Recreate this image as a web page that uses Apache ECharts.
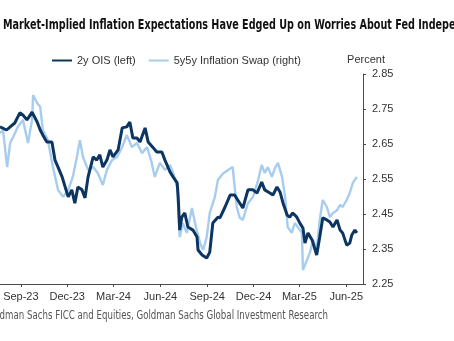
<!DOCTYPE html>
<html>
<head>
<meta charset="utf-8">
<script src="https://cdn.jsdelivr.net/npm/echarts@6/dist/echarts.min.js"></script>
<style>
html,body{margin:0;padding:0;background:#fff;}
#c{width:454px;height:341px;}
</style>
</head>
<body>
<div id="c"></div>
<script>
// 2y OIS (left) (in right-axis units)
const oisDates = ['2023-07-22','2023-08-04','2023-08-11','2023-08-20','2023-08-30','2023-09-05','2023-09-13','2023-09-23','2023-10-03','2023-10-09','2023-10-14','2023-10-22','2023-11-01','2023-11-07','2023-11-13','2023-11-21','2023-11-27','2023-12-03','2023-12-10','2023-12-16','2023-12-22','2023-12-30','2024-01-05','2024-01-11','2024-01-21','2024-01-28','2024-02-03','2024-02-09','2024-02-17','2024-02-23','2024-02-29','2024-03-10','2024-03-18','2024-03-27','2024-04-02','2024-04-08','2024-04-16','2024-04-22','2024-05-02','2024-05-08','2024-05-17','2024-05-25','2024-06-04','2024-06-10','2024-06-20','2024-06-26','2024-07-04','2024-07-06','2024-07-09','2024-07-13','2024-07-19','2024-07-25','2024-08-04','2024-08-12','2024-08-14','2024-08-22','2024-08-31','2024-09-06','2024-09-12','2024-09-22','2024-09-26','2024-10-06','2024-10-16','2024-10-25','2024-10-31','2024-11-10','2024-11-20','2024-11-30','2024-12-08','2024-12-17','2024-12-23','2025-01-02','2025-01-08','2025-01-16','2025-01-22','2025-01-28','2025-02-05','2025-02-10','2025-02-16','2025-02-24','2025-03-02','2025-03-08','2025-03-12','2025-03-18','2025-03-26','2025-04-04','2025-04-10','2025-04-16','2025-04-24','2025-04-30','2025-05-06','2025-05-14','2025-05-20','2025-05-25','2025-06-02','2025-06-08','2025-06-12','2025-06-18','2025-06-22'];
const oisValues = [2.699,2.690,2.699,2.710,2.739,2.733,2.719,2.741,2.713,2.690,2.676,2.656,2.656,2.604,2.584,2.556,2.527,2.499,2.519,2.481,2.527,2.519,2.496,2.556,2.613,2.604,2.619,2.584,2.604,2.633,2.613,2.633,2.696,2.699,2.713,2.667,2.667,2.656,2.696,2.656,2.641,2.627,2.627,2.604,2.570,2.556,2.539,2.499,2.404,2.441,2.453,2.413,2.404,2.384,2.347,2.333,2.324,2.341,2.424,2.441,2.439,2.470,2.504,2.504,2.490,2.467,2.519,2.519,2.510,2.541,2.519,2.510,2.504,2.527,2.513,2.481,2.447,2.441,2.453,2.441,2.424,2.410,2.367,2.396,2.376,2.333,2.384,2.439,2.433,2.427,2.413,2.433,2.404,2.396,2.361,2.367,2.390,2.404,2.396];

// 5y5y Inflation Swap (right)
const swapDates = ['2023-07-22','2023-07-28','2023-08-05','2023-08-11','2023-08-17','2023-08-26','2023-09-05','2023-09-15','2023-09-23','2023-09-25','2023-10-03','2023-10-09','2023-10-14','2023-10-24','2023-11-03','2023-11-13','2023-11-23','2023-12-03','2023-12-12','2023-12-20','2023-12-26','2024-01-01','2024-01-11','2024-01-21','2024-01-30','2024-02-09','2024-02-17','2024-02-27','2024-03-08','2024-03-18','2024-03-27','2024-04-06','2024-04-16','2024-04-26','2024-05-06','2024-05-15','2024-05-21','2024-05-31','2024-06-10','2024-06-20','2024-06-26','2024-07-04','2024-07-09','2024-07-15','2024-07-23','2024-08-02','2024-08-08','2024-08-18','2024-08-24','2024-08-31','2024-09-06','2024-09-16','2024-09-22','2024-10-02','2024-10-12','2024-10-21','2024-10-29','2024-11-04','2024-11-10','2024-11-20','2024-11-30','2024-12-10','2024-12-17','2024-12-23','2024-12-29','2025-01-06','2025-01-12','2025-01-18','2025-01-26','2025-02-01','2025-02-06','2025-02-14','2025-02-20','2025-02-26','2025-03-06','2025-03-08','2025-03-16','2025-03-22','2025-03-28','2025-04-04','2025-04-10','2025-04-16','2025-04-24','2025-04-30','2025-05-06','2025-05-14','2025-05-20','2025-05-25','2025-06-02','2025-06-08','2025-06-14','2025-06-22'];
const swapValues = [2.681,2.690,2.584,2.653,2.670,2.699,2.719,2.653,2.719,2.790,2.767,2.756,2.690,2.661,2.584,2.519,2.499,2.519,2.556,2.613,2.661,2.613,2.576,2.584,2.567,2.533,2.576,2.604,2.613,2.641,2.676,2.641,2.653,2.624,2.641,2.596,2.556,2.596,2.576,2.590,2.567,2.527,2.384,2.424,2.396,2.467,2.424,2.367,2.347,2.384,2.453,2.499,2.547,2.566,2.576,2.584,2.470,2.439,2.433,2.481,2.499,2.547,2.590,2.567,2.584,2.556,2.581,2.596,2.556,2.499,2.413,2.396,2.424,2.413,2.396,2.290,2.319,2.341,2.376,2.347,2.433,2.490,2.470,2.441,2.453,2.461,2.476,2.470,2.490,2.510,2.539,2.556];

// Axis ticks
const xTickDates = ['2023-09-01','2023-12-01','2024-03-01','2024-06-01','2024-09-01','2024-12-01','2025-03-01','2025-06-01'];
const xTickLabels = ['Sep-23','Dec-23','Mar-24','Jun-24','Sep-24','Dec-24','Mar-25','Jun-25'];
const xStart = '2023-07-22', xEnd = '2025-07-04';
const yMin = 2.25, yMax = 2.85, yStep = 0.1;

const seriesNames = ['2y OIS (left)', '5y5y Inflation Swap (right)'];

function ts(s){ const p = s.split('-').map(Number); return Date.UTC(p[0], p[1]-1, p[2]); }
const xTickTs = xTickDates.map(ts);

const chart = echarts.init(document.getElementById('c'), null, {renderer:'canvas'});
const axisColor = '#4a4a4a';
const textColor = '#333';
const font = 'Liberation Sans, Arial, sans-serif';

chart.setOption({
  animation: false,
  backgroundColor: '#fff',
  grid: {left: 0, right: 91, top: 74, bottom: 57, containLabel: false},
  legend: {
    left: 52, top: 55, padding: 0,
    itemWidth: 20, itemHeight: 10, itemGap: 13,
    icon: 'path://M0,4 L20,4 L20,6 L0,6 Z',
    textStyle: {fontFamily: font, fontSize: 11, color: textColor},
    data: seriesNames
  },
  xAxis: {
    type: 'value',
    min: ts(xStart), max: ts(xEnd),
    axisLine: {show: true, onZero: false, lineStyle: {color: axisColor, width: 1}},
    axisTick: {show: true, customValues: xTickTs, length: 3, lineStyle: {color: axisColor}},
    axisLabel: {
      customValues: xTickTs, margin: 7,
      fontFamily: font, fontSize: 11, color: textColor,
      formatter: function(v){ const i = xTickTs.indexOf(v); return i >= 0 ? xTickLabels[i] : ''; }
    },
    splitLine: {show: false}
  },
  yAxis: [
    {type: 'value', position: 'left', min: yMin, max: yMax, show: false, splitLine: {show: false}},
    {
      type: 'value', position: 'right', min: yMin, max: yMax, interval: yStep,
      axisLine: {show: true, lineStyle: {color: axisColor, width: 1}},
      axisTick: {show: true, length: 3, lineStyle: {color: axisColor}},
      axisLabel: {margin: 9, fontFamily: font, fontSize: 11, color: textColor,
        formatter: function(v){ return v.toFixed(2); }},
      splitLine: {show: false}
    }
  ],
  series: [
    {
      name: seriesNames[0], type: 'line', yAxisIndex: 0, z: 3,
      showSymbol: false, symbol: 'none',
      lineStyle: {color: '#0c3561', width: 3}, itemStyle: {color: '#0c3561'},
      data: oisDates.map((d, i) => [ts(d), oisValues[i]])
    },
    {
      name: seriesNames[1], type: 'line', yAxisIndex: 1, z: 2,
      showSymbol: false, symbol: 'none',
      lineStyle: {color: '#a6cdef', width: 2.4}, itemStyle: {color: '#a6cdef'},
      data: swapDates.map((d, i) => [ts(d), swapValues[i]])
    }
  ],
  graphic: [
    {type: 'text', x: 3, y: 25, scaleX: 0.765,
      style: {text: 'Market-Implied Inflation Expectations Have Edged Up on Worries About Fed Independence',
        font: 'bold 14px "Liberation Sans Narrow", "DejaVu Sans Condensed", sans-serif', fill: '#111',
        textAlign: 'left', textVerticalAlign: 'middle'}},
    {type: 'text', x: 366, y: 60,
      style: {text: 'Percent', font: '11px ' + font, fill: textColor, textAlign: 'center', textVerticalAlign: 'middle'}},
    {type: 'text', x: 328, y: 316, scaleX: 0.80,
      style: {text: 'Source: Goldman Sachs FICC and Equities, Goldman Sachs Global Investment Research',
        font: '12px "Liberation Sans Narrow", "DejaVu Sans Condensed", sans-serif', fill: '#555',
        textAlign: 'right', textVerticalAlign: 'middle'}}
  ]
});
</script>
</body>
</html>
